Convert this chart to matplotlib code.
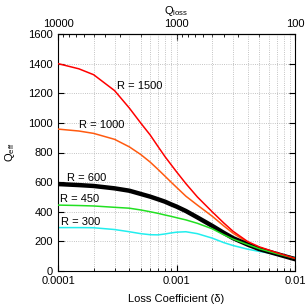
import matplotlib
matplotlib.use('Agg')
import matplotlib.pyplot as plt
import matplotlib.ticker as mticker
import numpy as np

plt.rcParams['font.family'] = ['Liberation Sans', 'DejaVu Sans']
plt.rcParams['font.size'] = 8

# loss coefficient grid used for the read-off values
delta = [1e-4, 1.5e-4, 2e-4, 3e-4, 4e-4, 5e-4, 6e-4, 7e-4, 8e-4, 9e-4,
         1e-3, 1.2e-3, 1.5e-3, 2e-3, 2.5e-3, 3e-3, 4e-3, 5e-3, 7e-3, 1e-2]

q_1500 = [1400, 1365, 1325, 1218, 1100, 998, 918, 839, 772, 718,
          670, 590, 500, 400, 325, 268, 198, 163, 124, 85]
q_1000 = [958, 945, 929, 889, 838, 786, 735, 685, 640, 600,
          565, 505, 445, 370, 305, 255, 192, 158, 120, 85]
q_600 = [587, 580, 574, 558, 542, 520, 502, 484, 468, 450,
         435, 405, 362, 305, 258, 222, 178, 148, 115, 80]
q_450 = [445, 442, 439, 430, 424, 412, 400, 389, 378, 369,
         360, 345, 322, 285, 245, 215, 178, 150, 117, 85]
q_300 = [293, 293, 292, 280, 265, 252, 245, 244, 250, 257,
         262, 265, 252, 222, 192, 172, 147, 132, 113, 92]

fig = plt.figure(figsize=(3.07, 3.05), dpi=100)
ax = fig.add_axes([58 / 307, 1 - 271 / 305, 237 / 307, 237 / 305])

ax.plot(delta, q_1500, color='#ff0000', lw=1.1, zorder=4)
ax.plot(delta, q_1000, color='#ff5a10', lw=1.1, zorder=3)
ax.plot(delta, q_600, color='black', lw=3.2, zorder=3)
ax.plot(delta, q_450, color='#22e022', lw=1.1, zorder=3)
ax.plot(delta, q_300, color='#22eeee', lw=1.1, zorder=2)

ax.text(4.9e-4, 1250, 'R = 1500', ha='center', va='center')
ax.text(2.33e-4, 985, 'R = 1000', ha='center', va='center')
ax.text(1.74e-4, 630, 'R = 600', ha='center', va='center')
ax.text(1.53e-4, 488, 'R = 450', ha='center', va='center')
ax.text(1.55e-4, 333, 'R = 300', ha='center', va='center')

ax.set_xscale('log')
ax.set_xlim(1e-4, 1e-2)
ax.set_ylim(0, 1600)
ax.set_yticks(np.arange(0, 1601, 200))
ax.xaxis.set_major_locator(mticker.FixedLocator([1e-4, 1e-3, 1e-2]))
ax.xaxis.set_major_formatter(mticker.FixedFormatter(['0.0001', '0.001', '0.01']))
ax.xaxis.set_minor_locator(mticker.LogLocator(base=10, subs=np.arange(2, 10)))
ax.xaxis.set_minor_formatter(mticker.NullFormatter())
ax.tick_params(which='both', direction='in', right=True, labelsize=8)
ax.tick_params(which='major', length=4)
ax.tick_params(which='minor', length=2)
ax.grid(True, which='both', axis='x', color='#b0b0b0', ls=':', lw=0.6)
ax.grid(True, which='major', axis='y', color='#b0b0b0', ls=':', lw=0.6)

ax.set_xlabel('Loss Coefficient (δ)', fontsize=8, labelpad=6)
ax.set_ylabel(r'Q$_\mathregular{eff}$', fontsize=8, labelpad=8)

top = ax.secondary_xaxis('top', functions=(lambda x: 1 / x, lambda x: 1 / x))
top.xaxis.set_major_locator(mticker.FixedLocator([1e4, 1e3, 1e2]))
top.xaxis.set_major_formatter(mticker.FixedFormatter(['10000', '1000', '100']))
top.xaxis.set_minor_locator(mticker.LogLocator(base=10, subs=np.arange(2, 10)))
top.xaxis.set_minor_formatter(mticker.NullFormatter())
top.tick_params(which='both', direction='in', labelsize=8)
top.tick_params(which='major', length=4)
top.tick_params(which='minor', length=2)
top.set_xlabel(r'Q$_\mathregular{loss}$', fontsize=8, labelpad=4)

fig.savefig('out.png', dpi=100, facecolor='white')
